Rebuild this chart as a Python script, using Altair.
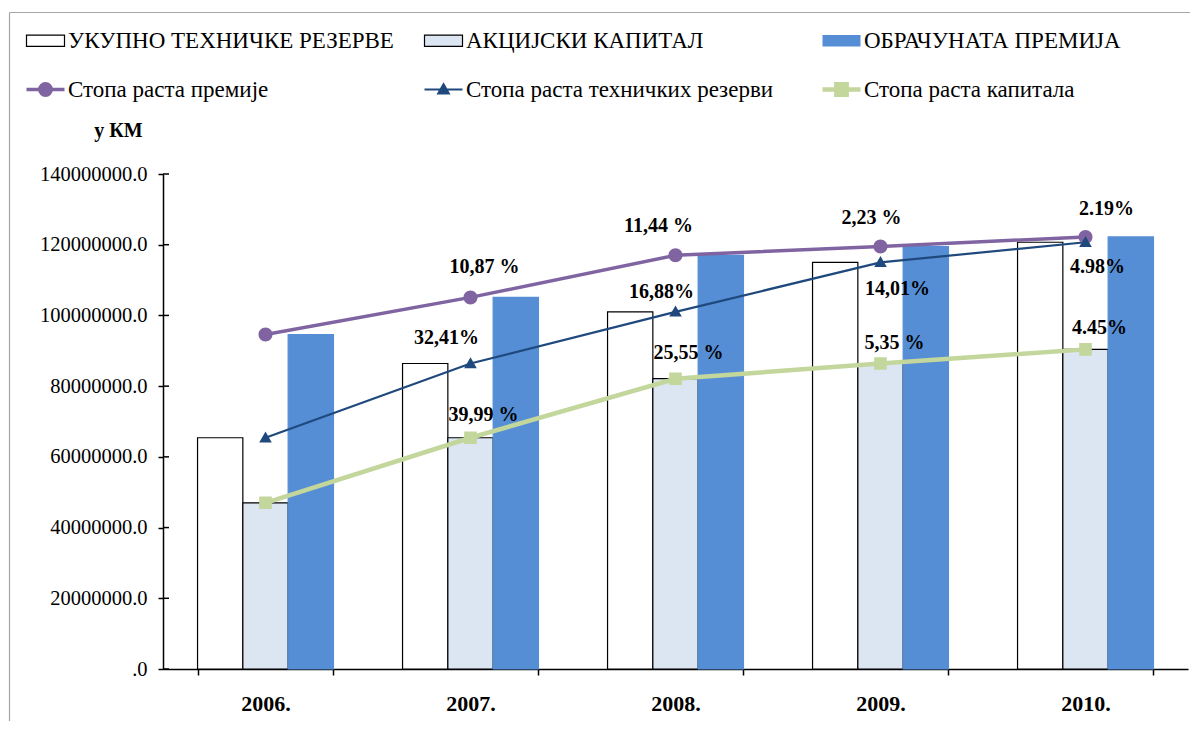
import altair as alt
import pandas as pd

years = ["2006.", "2007.", "2008.", "2009.", "2010."]
reserves = [65400000, 86400000, 101000000, 115000000, 120700000]
capital = [47000000, 65400000, 82100000, 86400000, 90400000]
premium = [94600000, 105100000, 117000000, 119500000, 122200000]

bar_series = ["УКУПНО ТЕХНИЧКЕ РЕЗЕРВЕ", "АКЦИЈСКИ КАПИТАЛ", "ОБРАЧУНАТА ПРЕМИЈА"]
line_series = ["Стопа раста премије", "Стопа раста техничких резерви", "Стопа раста капитала"]

premium_rates = ["", "10,87 %", "11,44 %", "2,23 %", "2.19%"]
reserves_rates = ["", "32,41%", "16,88%", "14,01%", "4.98%"]
capital_rates = ["", "39,99 %", "25,55 %", "5,35 %", "4.45%"]

y_ticks = [0, 20000000, 40000000, 60000000, 80000000, 100000000, 120000000, 140000000]

all_series = bar_series + line_series
FONT = "Liberation Serif"

# ---- tables built from the arrays ----
bar_rows = []
for s, vals in zip(bar_series, [reserves, capital, premium]):
    for y, v in zip(years, vals):
        bar_rows.append({"year": y, "series": s, "value": v})
bars_df = pd.DataFrame(bar_rows)

line_rows = []
for s, vals in zip(line_series, [premium, reserves, capital]):
    for y, v in zip(years, vals):
        line_rows.append({"year": y, "series": s, "value": v})
lines_df = pd.DataFrame(line_rows)

# ---- scales ----
RECT = "M-1,-0.3H1V0.3H-1Z"
CIRC = "M-1,0H1M-0.3,0A0.3,0.3,0,1,1,0.3,0A0.3,0.3,0,1,1,-0.3,0Z"
TRI = "M-1,0H1M0,-0.27L0.27,0.2L-0.27,0.2Z"
SQR = "M-1,0H1M-0.27,-0.27H0.27V0.27H-0.27Z"

line_widths = [3.5, 2.2, 4.5]

x_scale = alt.Scale(domain=years, paddingInner=0.337, paddingOuter=0.1685)
y_scale = alt.Scale(domain=[0, 140000000], nice=False)
color_scale = alt.Scale(domain=all_series,
                        range=["#FFFFFF", "#DCE6F2", "#558ED5", "#8064A2", "#1F497D", "#C3D69B"])
stroke_scale = alt.Scale(domain=all_series,
                         range=["#000000", "#000000", "#558ED5", "#8064A2", "#1F497D", "#C3D69B"])
shape_scale = alt.Scale(domain=all_series, range=[RECT, RECT, RECT, CIRC, TRI, SQR])

sw_expr = ("datum.value == '%s' ? %s : datum.value == '%s' ? %s : datum.value == '%s' ? %s : "
           "datum.value == '%s' ? 0 : 1.2") % (
    line_series[0], line_widths[0], line_series[1], line_widths[1],
    line_series[2], line_widths[2], bar_series[2])

legend = alt.Legend(title=None, orient="none", legendX=-129, legendY=-146,
                    direction="horizontal", columns=3, gridAlign="all",
                    columnPadding=21, rowPadding=21, labelFont=FONT, labelFontSize=23,
                    labelColor="black", symbolSize=1444, labelOffset=11, labelLimit=600,
                    symbolStrokeWidth={"expr": sw_expr})

x_axis = alt.Axis(title=None, labelFont=FONT, labelFontSize=22, labelFontWeight="bold",
                  labelColor="black", tickBand="extent", tickSize=6, tickColor="black",
                  tickWidth=1.5, labelPadding=28, labelBaseline="middle", labelAngle=0,
                  domainColor="black", domainWidth=1.5)
y_axis = alt.Axis(values=y_ticks,
                  labelExpr="datum.value == 0 ? '.0' : format(datum.value, '.1f')",
                  labelFont=FONT, labelFontSize=20.5, labelColor="black", tickColor="black",
                  tickSize=5, tickWidth=1.5, domainColor="black", domainWidth=1.5,
                  labelPadding=11, grid=False, title="у КМ", titleAngle=0, titleX=-45,
                  titleY=-44, titleFont=FONT, titleFontSize=20, titleFontWeight="bold",
                  titleAlign="center", titleBaseline="middle", titleColor="black")

X = alt.X("year:N", scale=x_scale, axis=x_axis)
Y = alt.Y("value:Q", scale=y_scale, axis=y_axis)

bars = alt.Chart(bars_df).mark_bar(opacity=1, strokeWidth=1.2).encode(
    x=X,
    xOffset=alt.XOffset("series:N", scale=alt.Scale(domain=bar_series, paddingInner=0, paddingOuter=0)),
    y=Y,
    color=alt.Color("series:N", scale=color_scale, legend=legend),
    stroke=alt.Stroke("series:N", scale=stroke_scale, legend=legend),
)

line_layers = []
for s, w in zip(line_series, line_widths):
    line_layers.append(
        alt.Chart(lines_df).transform_filter(alt.datum.series == s)
        .mark_line(strokeWidth=w)
        .encode(x=X, y=Y, stroke=alt.Stroke("series:N", scale=stroke_scale, legend=legend))
    )

points = alt.Chart(lines_df).mark_point(filled=True, size=2178, opacity=1, strokeWidth=0).encode(
    x=X, y=Y,
    color=alt.Color("series:N", scale=color_scale, legend=legend),
    shape=alt.Shape("series:N", scale=shape_scale, legend=legend),
)

# label offsets (dx, dy) for years 2007..2010
offsets = {
    0: [(14, -30), (-17, -29), (-9, -28), (21, -28)],
    1: [(-24, -26), (-14, -20), (17, 27), (12, 25)],
    2: [(13, -23), (13, -26), (14, -21), (14, -21)],
}
label_layers = []
for k, (vals, rates) in enumerate([(premium, premium_rates), (reserves, reserves_rates), (capital, capital_rates)]):
    for i in range(1, len(years)):
        dx, dy = offsets[k][i - 1]
        d = pd.DataFrame({"year": [years[i]], "value": [vals[i]], "label": [rates[i]]})
        label_layers.append(
            alt.Chart(d).mark_text(dx=dx, dy=dy, font=FONT, fontSize=20, fontWeight="bold",
                                   color="black", align="center", baseline="middle")
            .encode(x=X, y=Y, text="label:N")
        )

# inward half of the crossing y ticks
tick_df = pd.DataFrame({"value": y_ticks})
inner_ticks = alt.Chart(tick_df).mark_rule(color="black", strokeWidth=1.5).encode(
    y=Y, x=alt.value(0), x2=alt.value(6)
)

# outer chart border (top and left edges)
one = pd.DataFrame({"a": [0]})
border_top = alt.Chart(one).mark_rule(color="#A6A6A6", strokeWidth=1.2).encode(
    x=alt.value(-153.5), x2=alt.value(1040), y=alt.value(-161.5)
)
border_left = alt.Chart(one).mark_rule(color="#A6A6A6", strokeWidth=1.2).encode(
    x=alt.value(-153.5), y=alt.value(-161.5), y2=alt.value(560)
)

chart = alt.layer(bars, *line_layers, points, *label_layers, inner_ticks, border_top, border_left).properties(
    width=1025, height=495,
    padding={"left": 155, "top": 166, "right": 2, "bottom": 52},
    autosize=alt.AutoSizeParams(type="none"),
).configure(font=FONT).configure_view(strokeWidth=0).configure_legend(labelFont=FONT)

chart.save("out.html", embed_options={"renderer": "svg", "actions": False})
